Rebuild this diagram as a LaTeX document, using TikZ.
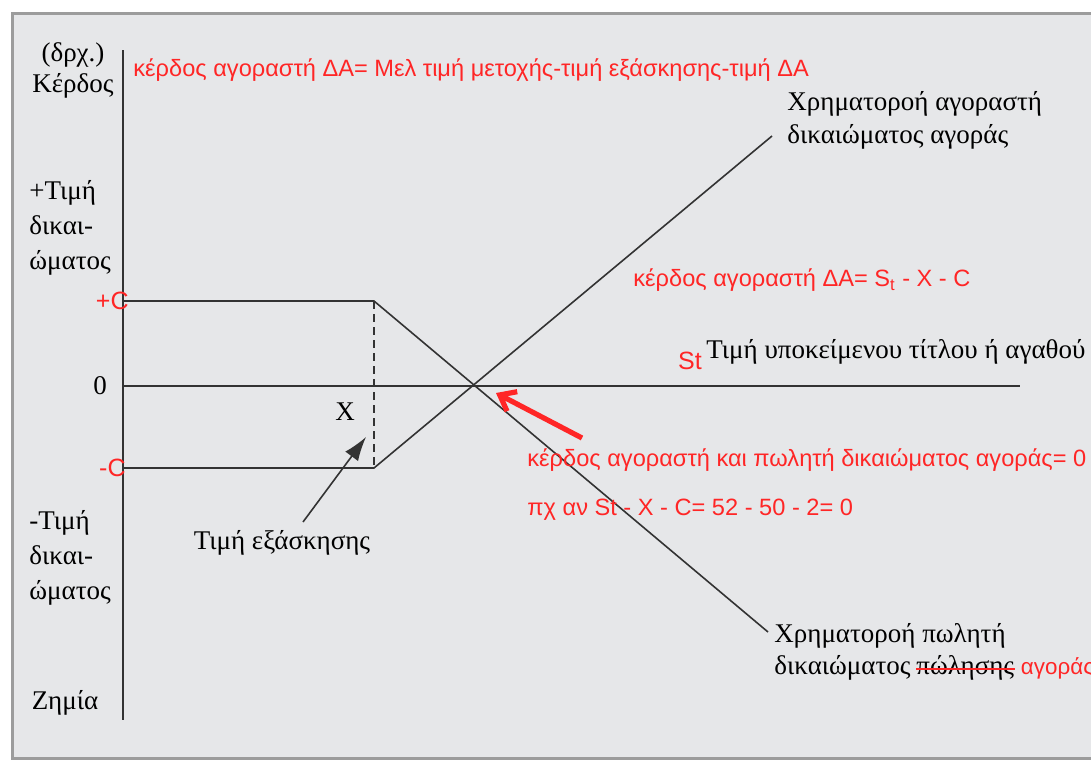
\documentclass[tikz,border=0pt]{standalone}
\usepackage{fontspec}
\setmainfont{Liberation Serif}
\newfontfamily\redsans{Liberation Sans}
\usepackage{tikz}
\usetikzlibrary{arrows.meta}
\definecolor{opt_red}{HTML}{FF2626}
\definecolor{opt_back}{HTML}{E6E7E9}
\definecolor{opt_frame}{HTML}{9C9C9C}
\definecolor{opt_line}{HTML}{333333}

\tikzset{
    blk/.style={font=\fontsize{13.5}{16.5}\selectfont, text=black, inner sep=0pt},
    rd/.style={font=\redsans\fontsize{11.8}{14}\selectfont, text=opt_red, inner sep=0pt},
    axis/.style={opt_line, line width=1.3pt},
    payoff/.style={opt_line, line width=0.8pt},
}

\begin{document}
\begin{tikzpicture}[x=0.5pt, y=-0.5pt]
            \useasboundingbox (0,0) rectangle (1091,760);
            \fill[white] (0,0) rectangle (1091,760);
            \filldraw[fill=opt_back, draw=opt_frame, line width=1.5pt] (12,13) rectangle (1110,758);

            % axes
            \coordinate (ytop) at (123,50);
            \coordinate (ybot) at (123,720);
            \coordinate (orig) at (123,386);
            \coordinate (xend) at (1020,386);

            % payoff corners
            \coordinate (pc) at (123,301);
            \coordinate (mc) at (123,468);
            \coordinate (kup) at (374,301);
            \coordinate (kdn) at (374,468);
            \coordinate (buyend) at (772,136);
            \coordinate (sellend) at (768,632);

            \draw[axis] (ytop) -- (ybot);
            \draw[axis] (orig) -- (xend);
            \draw[payoff] (pc) -- (kup) -- (sellend);
            \draw[payoff] (mc) -- (kdn) -- (buyend);
            \draw[payoff, dashed, dash pattern=on 4pt off 2.5pt] (kup) -- (kdn);

            % left labels
            \node[blk] (unit) at (73,55) {(δρχ.)};
            \node[blk] (gain) at (73,86) {Κέρδος};
            \node[blk, anchor=north west, align=left] (plusprem) at (29,180) {+Τιμή\\[1pt]δικαι-\\[1pt]ώματος};
            \node[blk] (zero) at (100,386) {0};
            \node[blk, anchor=north west, align=left] (minusprem) at (29,510) {-Τιμή\\[1pt]δικαι-\\[1pt]ώματος};
            \node[blk] (loss) at (65,703) {Ζημία};
            \node[rd, anchor=east, font=\redsans\fontsize{12.5}{14}\selectfont] (pclab) at (129,301) {+C};
            \node[rd, anchor=east, font=\redsans\fontsize{12.5}{14}\selectfont] (mclab) at (126,468) {-C};

            % strike price
            \node[blk] (xlab) at (345,412) {X};
            \node[blk] (exer) at (282,543) {Τιμή εξάσκησης};
            \coordinate (extail) at (303,522);
            \coordinate (extip) at (366,437);
            \draw[opt_line, line width=0.8pt, -{Latex[length=12pt, width=8pt]}] (extail) -- (extip);

            % line labels
            \node[blk, anchor=north west, align=left] (buylab) at (787,91) {Χρηματοροή αγοραστή\\δικαιώματος αγοράς};
            \node[blk, anchor=west] (sella) at (774,636) {Χρηματοροή πωλητή};
            \node[blk, anchor=west] (sellb) at (774,668) {δικαιώματος};
            \node[blk, anchor=base west] (struck) at ([xshift=2.5pt]sellb.base east) {πώλησης};
            \draw[opt_red, line width=1pt] ([yshift=3pt]struck.base west) -- ([yshift=3pt]struck.base east);
            \node[rd, anchor=base west, font=\redsans\fontsize{11.2}{14}\selectfont] (fixed) at ([xshift=3pt]struck.base east) {αγοράς};
            \node[blk, anchor=west] (under) at (706,352) {Τιμή υποκείμενου τίτλου ή αγαθού};
            \node[rd, font=\redsans\fontsize{12.5}{14}\selectfont] (stlab) at (690,361) {St};

            % red notes
            \node[rd, anchor=west] (title) at (133,70) {κέρδος αγοραστή ΔΑ= Μελ τιμή μετοχής-τιμή εξάσκησης-τιμή ΔΑ};
            \node[rd, anchor=west] (formula) at (633,280) {κέρδος αγοραστή ΔΑ= S\textsubscript{t} - X - C};
            \node[rd, anchor=west] (zeronote) at (527,460) {κέρδος αγοραστή και πωλητή δικαιώματος αγοράς= 0};
            \node[rd, anchor=west] (example) at (527,510) {πχ αν St - X - C= 52 - 50 - 2= 0};

            \coordinate (redtail) at (582,438);
            \coordinate (redtip) at (496,393);
            \draw[opt_red, line width=2.6pt, -{Straight Barb[length=7pt, width=11pt]}] (redtail) -- (redtip);
\end{tikzpicture}
\end{document}
